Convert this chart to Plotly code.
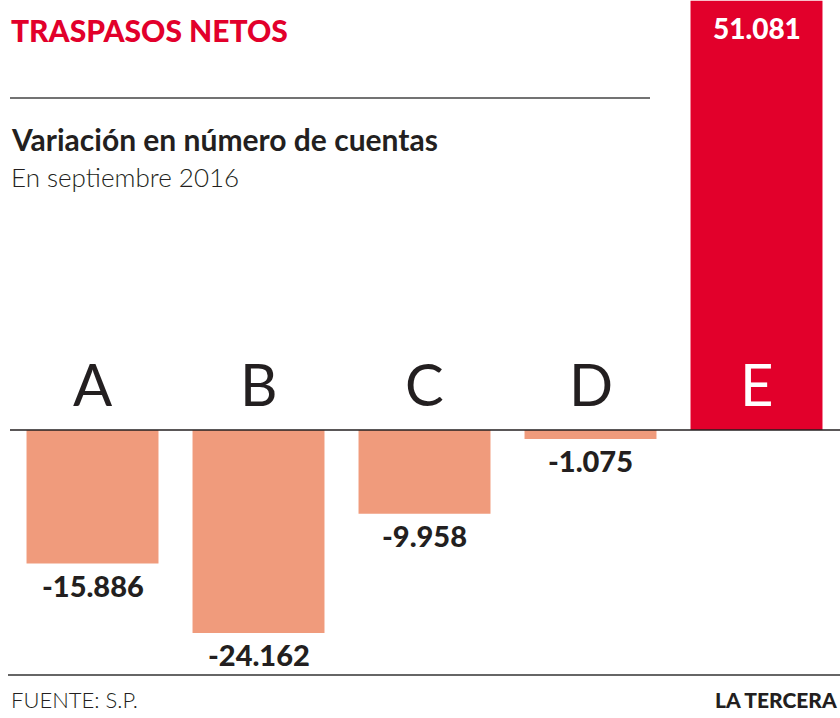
import plotly.graph_objects as go

categories = ["A", "B", "C", "D", "E"]
values = [-15886, -24162, -9958, -1075, 51081]
value_labels = ["-15.886", "-24.162", "-9.958", "-1.075", "51.081"]

title = "TRASPASOS NETOS"
subtitle = "Variación en número de cuentas"
subsubtitle = "En septiembre 2016"
source = "FUENTE: S.P."
brand = "LA TERCERA"

RED = "#E2002B"
SALMON = "#F09B7C"
DARK = "#231F20"
FONT = "Lato"

W, H = 840, 718
def py(p):
    return 1 - p / H
def px(p):
    return p / W

colors = [RED if v > 0 else SALMON for v in values]
xs = list(range(len(categories)))

fig = go.Figure()
fig.add_trace(go.Bar(x=xs, y=values, marker=dict(color=colors, line=dict(width=0)),
                     width=0.795, hoverinfo="skip"))

annotations = []
# category letters above baseline
for i, c in enumerate(categories):
    annotations.append(dict(x=i, y=0, xref="x", yref="y", text=c, showarrow=False,
                            yanchor="bottom", yshift=10,
                            font=dict(family=FONT, size=58, weight=400,
                                      color="white" if values[i] > 0 else DARK)))
# value labels
for i, (v, lab) in enumerate(zip(values, value_labels)):
    if v < 0:
        annotations.append(dict(x=i, y=v, xref="x", yref="y", text=lab, showarrow=False,
                                yanchor="top", yshift=-2,
                                font=dict(family=FONT, size=29, weight=900, color=DARK)))
    else:
        annotations.append(dict(x=i, y=v, xref="x", yref="y", text=lab, showarrow=False,
                                yanchor="top", yshift=-8,
                                font=dict(family=FONT, size=28, weight=900, color="white")))

annotations += [
    dict(x=px(9), y=py(30), xref="paper", yref="paper", text=title, showarrow=False,
         xanchor="left", yanchor="middle",
         font=dict(family=FONT, size=30, weight=900, color=RED)),
    dict(x=px(9), y=py(139), xref="paper", yref="paper", text=subtitle, showarrow=False,
         xanchor="left", yanchor="middle",
         font=dict(family=FONT, size=30, weight=700, color=DARK)),
    dict(x=px(9), y=py(177), xref="paper", yref="paper", text=subsubtitle, showarrow=False,
         xanchor="left", yanchor="middle",
         font=dict(family=FONT, size=26, weight=300, color=DARK)),
    dict(x=px(9), y=py(699), xref="paper", yref="paper", text=source, showarrow=False,
         xanchor="left", yanchor="middle",
         font=dict(family=FONT, size=22, weight=300, color=DARK)),
    dict(x=px(839), y=py(699), xref="paper", yref="paper", text=brand, showarrow=False,
         xanchor="right", yanchor="middle",
         font=dict(family=FONT, size=21, weight=900, color=DARK)),
]

shapes = [
    dict(type="line", xref="paper", yref="paper", x0=px(10), x1=px(650), y0=py(98), y1=py(98),
         line=dict(color="#444444", width=1.5)),
    dict(type="line", xref="paper", yref="y", x0=px(10), x1=1, y0=0, y1=0,
         line=dict(color=DARK, width=1.5)),
    dict(type="line", xref="paper", yref="paper", x0=px(8), x1=1, y0=py(675), y1=py(675),
         line=dict(color="#666666", width=2)),
]

units_per_px = 119.0
fig.update_layout(
    width=W, height=H, margin=dict(l=0, r=0, t=0, b=0),
    paper_bgcolor="white", plot_bgcolor="white", showlegend=False,
    xaxis=dict(range=[-92.5 / 166, (W - 92.5) / 166], visible=False, fixedrange=True),
    yaxis=dict(range=[-(H - 430) * units_per_px, 430 * units_per_px], visible=False,
               fixedrange=True),
    annotations=annotations, shapes=shapes,
)
fig.write_html("out.html", config={"displayModeBar": False},
               post_script="document.body.style.margin='0';document.body.style.overflow='hidden';")
